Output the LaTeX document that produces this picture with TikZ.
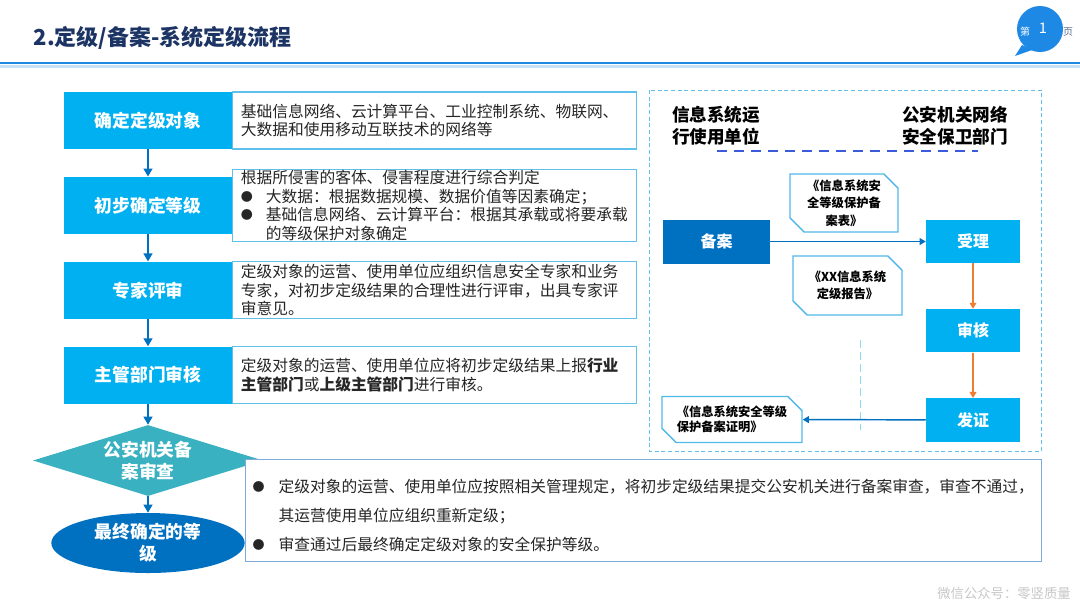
\documentclass[tikz,border=0pt]{standalone}
\usepackage{fontspec}
\setmainfont{Noto Sans CJK SC}
\usepackage{tikz}
\usetikzlibrary{positioning,shapes.geometric,shapes.misc,arrows.meta}
\definecolor{TitleNavy}{RGB}{28,52,100}
\definecolor{HeadBlue}{RGB}{30,136,229}
\definecolor{SkyBlue}{RGB}{0,176,240}
\definecolor{DeepBlue}{RGB}{0,112,192}
\definecolor{TealGate}{RGB}{58,177,192}
\definecolor{NoteLine}{RGB}{96,192,236}
\definecolor{SumLine}{RGB}{125,172,220}
\definecolor{DocLine}{RGB}{80,184,232}
\definecolor{FlowOrange}{RGB}{237,125,49}
\definecolor{SepBlue}{RGB}{58,92,218}
\definecolor{InkGray}{RGB}{38,38,38}
\newcommand{\bulletbox}[1]{\makebox[#1][l]{\raisebox{0.8pt}{\fontsize{9pt}{9pt}\selectfont ●}}}

\begin{document}
\begin{tikzpicture}[x=0.75pt, y=-0.75pt, node distance=20.5pt,
    stage/.style={rectangle, fill=SkyBlue, minimum width=126pt, minimum height=42.75pt, inner sep=0pt, text=white, font=\fontsize{13.3pt}{16pt}\selectfont\bfseries},
    note/.style={rectangle, draw=NoteLine, line width=0.9pt, fill=white, minimum width=303pt, minimum height=42.75pt, text width=291pt, inner xsep=6pt, inner ysep=0pt, align=left, text=InkGray, font=\fontsize{11.8pt}{14pt}\selectfont},
    gate/.style={diamond, fill=TealGate, minimum width=172.5pt, minimum height=53.25pt, inner sep=0pt},
    gatetext/.style={text=white, align=center, font=\fontsize{13.3pt}{16.5pt}\selectfont\bfseries},
    finale/.style={ellipse, fill=DeepBlue, minimum width=145pt, minimum height=45pt, inner sep=0pt, text=white, align=center, font=\fontsize{13.3pt}{16.5pt}\selectfont\bfseries},
    summary/.style={rectangle, draw=SumLine, line width=1pt, fill=white, minimum width=597pt, minimum height=76.5pt, text width=586.5pt, inner xsep=5.25pt, align=left, text=InkGray, font=\fontsize{11.8pt}{21.75pt}\selectfont},
    partytext/.style={align=left, text=black, font=\fontsize{13.2pt}{16.5pt}\selectfont\bfseries},
    office/.style={rectangle, fill=SkyBlue, minimum width=70.5pt, minimum height=32.5pt, inner sep=0pt, text=white, font=\fontsize{12pt}{14pt}\selectfont\bfseries},
    doccard/.style={chamfered rectangle, chamfered rectangle xsep=7pt, chamfered rectangle corners={north east,south west}, draw=DocLine, line width=1.1pt, fill=white, inner sep=0pt, text=black, font=\fontsize{9.2pt}{13pt}\selectfont\bfseries},
    flowarrow/.style={-{Triangle[width=6.5pt,length=6pt]}, DeepBlue, line width=1.6pt},
    linkarrow/.style={-{Triangle[width=5pt,length=4.5pt]}, DeepBlue, line width=1.1pt},
    checkarrow/.style={-{Triangle[width=5pt,length=4.5pt]}, FlowOrange, line width=1.1pt},
    sepline/.style={SepBlue, line width=1.5pt, dash pattern=on 7.5pt off 5.25pt},
    panelframe/.style={NoteLine, line width=0.75pt, dash pattern=on 3pt off 2pt},
    guide/.style={SkyBlue!45, line width=0.75pt, dash pattern=on 6pt off 3pt}]

    \useasboundingbox (0,0) rectangle (1080,608);
    \fill[white] (0,0) rectangle (1080,608);

    % header
    \node[anchor=west, text=TitleNavy, font=\fontsize{16.5pt}{18pt}\selectfont\bfseries] (title) at (29,38) {2.定级/备案-系统定级流程};
    \draw[HeadBlue, line width=2pt] (0,63) -- (1080,63);
    \draw[HeadBlue!25, line width=2pt] (0,66.5) -- (1080,66.5);
    \fill[HeadBlue] (1040,29) circle (17.25pt);
    \fill[HeadBlue] (1022,45) -- (1015,56) -- (1032,50) -- cycle;
    \node[text=white, font=\fontsize{7.5pt}{8pt}\selectfont] (pgword) at (1025,32) {第};
    \node[text=white, font=\fontsize{11pt}{12pt}\selectfont] (pgnum) at (1043,28) {1};
    \node[text=TitleNavy!70, font=\fontsize{7.5pt}{8pt}\selectfont] (pgunit) at (1068,32) {页};

    % left flow
    \node[stage] (obj) at (148,120.5) {确定定级对象};
    \node[stage, below=of obj] (init) {初步确定等级};
    \node[stage, below=of init] (review) {专家评审};
    \node[stage, below=of review] (check) {主管部门审核};

    \node[note, right=0pt of obj] (objnote) {基础信息网络、云计算平台、工业控制系统、物联网、\\大数据和使用移动互联技术的网络等};
    \node[note, minimum height=54pt, right=0pt of init] (initnote) {根据所侵害的客体、侵害程度进行综合判定\\\bulletbox{18.75pt}大数据：根据数据规模、数据价值等因素确定；\\\bulletbox{18.75pt}基础信息网络、云计算平台：根据其承载或将要承载\\\hspace*{18.75pt}的等级保护对象确定};
    \node[note, right=0pt of review] (reviewnote) {定级对象的运营、使用单位应组织信息安全专家和业务\\专家，对初步定级结果的合理性进行评审，出具专家评\\审意见。};
    \node[note, right=0pt of check] (checknote) {定级对象的运营、使用单位应将初步定级结果上报\textbf{行业}\\\textbf{主管部门}或\textbf{上级主管部门}进行审核。};

    \node[gate, label={[gatetext]center:{公安机关备\\案审查}}] (police) at (148,460.5) {};
    \node[finale] (final) at (148,543) {最终确定的等\\级};
    \node[summary, anchor=north west] (rule) at (245,459) {\rule{0pt}{16.6pt}\bulletbox{19.5pt}定级对象的运营、使用单位应按照相关管理规定，将初步定级结果提交公安机关进行备案审查，审查不通过，\\\hspace*{19.5pt}其运营使用单位应组织重新定级；\\\bulletbox{19.5pt}审查通过后最终确定定级对象的安全保护等级。};

    \draw[flowarrow] (obj) -- (init);
    \draw[flowarrow] (init) -- (review);
    \draw[flowarrow] (review) -- (check);
    \draw[flowarrow] (check) -- (police);
    \draw[flowarrow] (police) -- (final);

    % right panel
    \draw[panelframe] (649,90) rectangle (1041,451);
    \node[partytext] (unit) at (716,126) {信息系统运\\行使用单位};
    \node[partytext] (psb) at (955,126) {公安机关网络\\安全保卫部门};
    \draw[sepline] (717,151) -- (978,151);

    \node[office, fill=DeepBlue, minimum width=80.25pt, minimum height=33pt] (file) at (716.5,241.5) {备案};
    \node[office] (accept) at (973,241.5) {受理};
    \node[office, below=34pt of accept] (audit) {审核};
    \node[office, below=34pt of audit] (issue) {发证};

    \node[doccard, align=center, minimum width=81pt, minimum height=43.5pt] (formtable) at (844,203) {《信息系统安\\全等级保护备\\案表》};
    \node[doccard, align=center, minimum width=81.75pt, minimum height=44.25pt] (report) at (847.5,285.5) {《XX信息系统\\定级报告》};
    \node[doccard, align=left, minimum width=105pt, minimum height=34.5pt, font=\fontsize{9.2pt}{11.25pt}\selectfont\bfseries] (proof) at (732,419.5) {《信息系统安全等级\\保护备案证明》};

    \draw[guide] (860,340) -- (860,430);

    \draw[linkarrow] (file) -- (accept);
    \draw[checkarrow] (accept) -- (audit);
    \draw[checkarrow] (audit) -- (issue);
    \draw[linkarrow] (issue) -- (proof);

    \node[text=black!22, font=\fontsize{10pt}{12pt}\selectfont] (wm) at (1004,593) {微信公众号：零竖质量};
\end{tikzpicture}
\end{document}
